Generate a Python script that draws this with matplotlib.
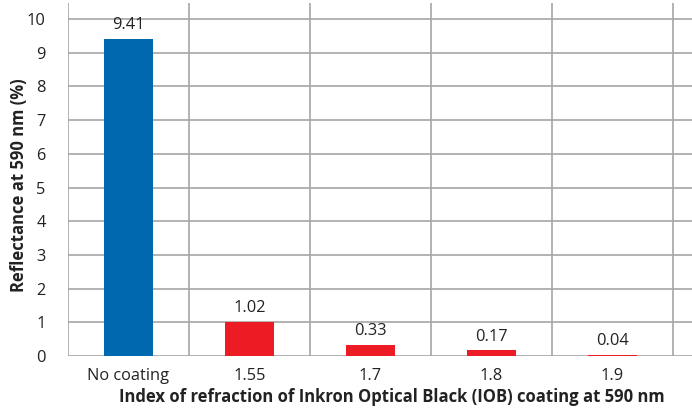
import matplotlib
matplotlib.use("Agg")
import matplotlib.pyplot as plt

categories = ["No coating", "1.55", "1.7", "1.8", "1.9"]
values = [9.41, 1.02, 0.33, 0.17, 0.04]
labels = ["9.41", "1.02", "0.33", "0.17", "0.04"]
colors = ["#0068AE", "#ED1C24", "#ED1C24", "#ED1C24", "#ED1C24"]
yticks = list(range(0, 11))

plt.rcParams['font.family'] = ['Open Sans', 'DejaVu Sans']

fig = plt.figure(figsize=(6.92, 4.09), dpi=100)
W, H = 692, 409
left, right, top, bottom = 68, 692, 3, 356
ax = fig.add_axes([left / W, 1 - bottom / H, (right - left) / W, (bottom - top) / H])

n = len(categories)
xs = list(range(n))
ax.set_xlim(-0.5, -0.5 + (right - left) / 121.0)
ax.set_ylim(0, (bottom - top) / 33.7)

gc = "#A6A6A6"
for y in yticks:
    ax.axhline(y, color=gc, lw=1.2, zorder=1)
for i in range(n + 1):
    ax.axvline(i - 0.5, color=gc, lw=1.2, zorder=1)

ax.bar(xs, values, width=0.41, color=colors, zorder=3)
for x, v, t in zip(xs, values, labels):
    ax.annotate(t, (x, v), xytext=(0, 4), textcoords="offset points",
                ha="center", va="bottom", fontsize=11.8, color="#222222")

for s in ax.spines.values():
    s.set_visible(False)
ax.set_xticks(xs)
ax.set_xticklabels(categories, fontsize=11.8, color="#222222")
ax.set_yticks(yticks)
ax.set_yticklabels([str(y) for y in yticks], fontsize=11.8, color="#222222")
ax.tick_params(axis="both", length=0)
ax.tick_params(axis="y", pad=16)
ax.tick_params(axis="x", pad=9)
ax.set_xlabel("Index of refraction of Inkron Optical Black (IOB) coating at 590 nm",
              fontsize=12, fontweight="bold", color="#222222")
ax.xaxis.set_label_coords((392 - left) / (right - left), -(388 - bottom) / (bottom - top))
ax.set_ylabel("Reflectance at 590 nm (%)", fontsize=12, fontweight="bold", color="#222222")
ax.yaxis.set_label_coords(-(left - 28) / (right - left), (bottom - 185) / (bottom - top))

fig.savefig("out.png", dpi=100)
